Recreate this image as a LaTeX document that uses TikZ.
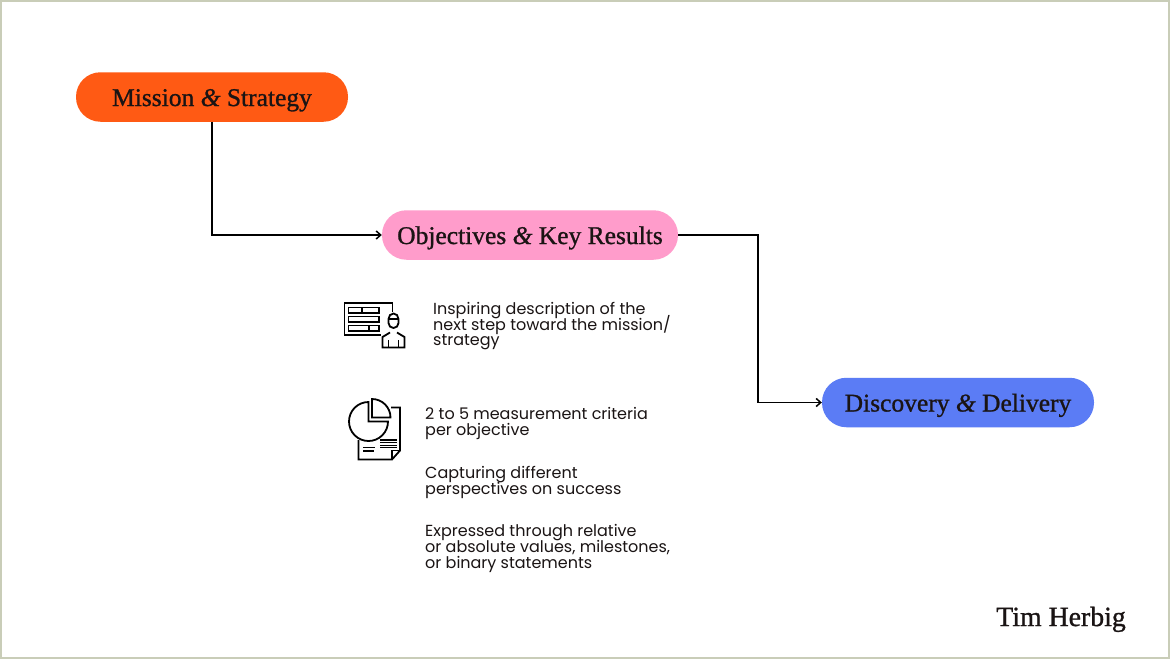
\documentclass[tikz,border=0pt]{standalone}
\usepackage{fontspec}
\setmainfont{Liberation Serif}
\newfontfamily\bodyfont{Poppins}
\newfontfamily\headfont[RawFeature={embolden=1.0}]{Liberation Serif}
\usetikzlibrary{arrows.meta}
\definecolor{frameC}{HTML}{C9CDB8}
\definecolor{orangeC}{HTML}{FF5A14}
\definecolor{pinkC}{HTML}{FF9CCB}
\definecolor{blueC}{HTML}{5B7CF5}
\definecolor{inkC}{HTML}{1A1414}
\newcommand{\tightlines}{\lineskiplimit=-100pt\relax}
\tikzset{
 pill/.style={rounded corners=24.5pt,minimum height=49.5pt,inner sep=0pt,text=inkC,text height=18pt,text depth=0pt,font=\headfont\fontsize{25.5}{28}\selectfont,anchor=center},
 conn/.style={draw=black,line width=1.3pt,-{Straight Barb[length=4.5pt,width=8pt,line width=1.5pt]}},
 para/.style={anchor=north west,align=left,inner sep=0pt,text=inkC,font=\bodyfont\fontsize{16}{15.7}\selectfont\tightlines},
 ico/.style={draw=black,line width=1.8pt,fill=none,line join=miter},
 icothin/.style={ico,line width=1.4pt}
}
\begin{document}
\begin{tikzpicture}[x=1pt,y=-1pt]
\useasboundingbox (0,0) rectangle (1170,659);
\fill[white] (0,0) rectangle (1170,659);
\draw[frameC,line width=2pt] (1,1) rectangle (1169,658);
\node[pill,fill=orangeC,minimum width=272pt] (mission) at (212,97) {Mission {\itshape\&} Strategy};
\node[pill,fill=pinkC,minimum width=296pt] (okr) at (530,235) {Objectives {\itshape\&} Key Results};
\node[pill,fill=blueC,minimum width=272pt] (dd) at (958,402.5) {Discovery {\itshape\&} Delivery};
\draw[conn] (mission.south) |- (okr.west);
\draw[conn] (okr.east) -- (758,235) |- (dd.west);
% icon 1: board and person
\draw[ico] (392.5,312) -- (392.5,303) -- (344.5,303) -- (344.5,335) -- (381,335);
\draw[icothin] (348.5,307.5) rectangle (379,313);
\draw[icothin] (362,307.5) -- (362,313);
\draw[icothin] (348.5,316.5) rectangle (379,322);
\draw[icothin] (348.5,325.5) rectangle (379,331);
\draw[icothin] (369,325.5) -- (369,331);
\draw[ico] (388.5,319) arc[start angle=180,end angle=360,x radius=5,y radius=5.5] -- (398.5,323) arc[start angle=0,end angle=180,x radius=5,y radius=5] -- cycle;
\draw[icothin] (388.5,319) -- (398.5,319);
\draw[ico] (390,332.5) -- (382.5,337) -- (382.5,347.5) -- (404.5,347.5) -- (404.5,337) -- (397,332.5);
\draw[icothin] (388.5,347.5) -- (388.5,340) (398.5,347.5) -- (398.5,340);
% icon 2: report
\draw[ico] (368.5,402) arc[start angle=-90,end angle=-360,radius=19.5] -- (368.5,421.5) -- cycle;
\draw[ico] (372,399) arc[start angle=-90,end angle=0,radius=18.5] -- (372,417.5) -- cycle;
\draw[ico] (391,407.5) -- (400,407.5) -- (400,450.5) -- (392,459.5) -- (358.5,459.5) -- (358.5,440);
\draw[icothin] (400,450.5) -- (392,450.5) -- (392,459.5);
\draw[icothin] (380,440) -- (397,440) (380,442.7) -- (397,442.7) (380,445.2) -- (397,445.2) (380,447.7) -- (397,447.7);
\draw[icothin] (363,447.5) -- (375,447.5) (363,451) -- (374,451);
% text
\node[para] (t1) at (433,302) {Inspiring description of the\\next step toward the mission/\\strategy};
\node[para] (t2) at (425,407.5) {2 to 5 measurement criteria\\per objective};
\node[para] (t3) at (425,466) {Capturing different\\perspectives on success};
\node[para] (t4) at (425,524.5) {Expressed through relative\\or absolute values, milestones,\\or binary statements};
\node[anchor=base east,inner sep=0pt,text=inkC,font=\headfont\fontsize{27.8}{30}\selectfont] (sig) at (1126,626) {Tim Herbig};
\end{tikzpicture}
\end{document}
